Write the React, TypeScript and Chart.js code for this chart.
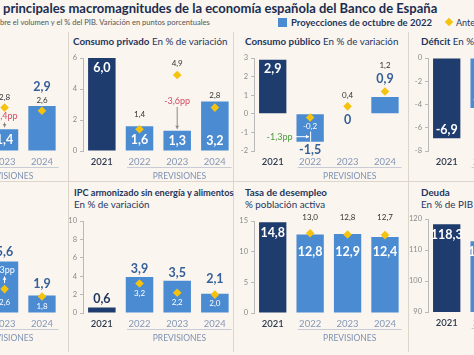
import React, { useEffect, useRef } from "react";
import { Chart, registerables } from "chart.js";
Chart.register(...registerables);

// ---------- DATA ----------
const YEARS = ["2021", "2022", "2023", "2024"];

const pibOct = [5.5, 4.5, 1.4, 2.9];
const pibPrev = [null, 4.1, 2.8, 2.6];
const pibTicks = [0, 2, 4, 6];

const consPrivOct = [6.0, 1.6, 1.3, 3.2];
const consPrivPrev = [null, 1.4, 4.9, 2.8];
const consPrivTicks = [0, 2, 4, 6];

const consPubOct = [2.9, -1.5, 0, 0.9];
const consPubPrev = [null, -0.2, 0.4, 1.2];
const consPubTicks = [-2, -1, 0, 1, 2, 3];

const deficitOct = [-6.9, -4.3, -4.4, -4.4];
const deficitPrev = [null, -5.0, -4.0, -3.6];
const deficitTicks = [-8, -6, -4, -2, 0];

const ipcOct = [3.0, 8.7, 5.6, 1.9];
const ipcPrev = [null, 7.5, 2.6, 1.8];
const ipcTicks = [0, 2, 4, 6, 8, 10];

const ipcSubOct = [0.6, 3.9, 3.5, 2.1];
const ipcSubPrev = [null, 3.2, 2.2, 2.0];
const ipcSubTicks = [0, 2, 4, 6, 8, 10];

const paroOct = [14.8, 12.8, 12.9, 12.4];
const paroPrev = [null, 13.0, 12.8, 12.7];
const paroTicks = [0, 5, 10, 15];

const deudaOct = [118.3, 112.8, 112.0, 111.6];
const deudaPrev = [null, 115.0, 114.4, 114.1];
const deudaTicks = [90, 100, 110, 120];

// ---------- STYLE ----------
const F = "Lato, 'Open Sans', sans-serif";
const BG = "#faf5ee";
const DARK = "#1e3c6e";
const LIGHT = "#4b8bd2";
const GOLD = "#f5c30f";
const W = "#ffffff";
const BLUE = "#345f98";
const NAVY = "#22385e";
const TXT = "#333333";
const RED = "#d24b63";
const GREEN = "#4a9a3e";
const SEP = "#ddd5ca";
const AX = "#b9b9b9";

type Anchor = "top" | "base";
interface ValLab { a: Anchor; dy: number; c: string }
interface DLab { dy: number; c: string }
interface Annot { i: number; mode: "down" | "up" | "left"; c: string; arrow: string }
interface PanelSpec {
  plot: [number, number, number, number];
  ticks: number[];
  oct: number[];
  prev: (number | null)[];
  vl: ValLab[];
  dl: DLab[];
  annot?: Annot;
}

const fmt = (v: number) => (Math.abs(v) < 1e-9 ? "0" : v.toFixed(1).replace(".", ","));
const fmtPP = (d: number) => {
  const r = Math.round(d * 10) / 10;
  const s = Number.isInteger(r) ? String(r) : r.toFixed(1).replace(".", ",");
  return (r > 0 ? "+" : "") + s + "pp";
};

const PANELS: PanelSpec[] = [
  {
    plot: [-89, 58, 63, 151], ticks: pibTicks, oct: pibOct, prev: pibPrev,
    vl: [{ a: "top", dy: 10, c: W }, { a: "base", dy: -11, c: W }, { a: "base", dy: -11, c: W }, { a: "top", dy: -19, c: BLUE }],
    dl: [{ dy: 0, c: TXT }, { dy: -12, c: TXT }, { dy: -10.5, c: TXT }, { dy: -10.5, c: TXT }],
    annot: { i: 2, mode: "down", c: RED, arrow: "#8a8a8a" },
  },
  {
    plot: [83, 58, 236, 151], ticks: consPrivTicks, oct: consPrivOct, prev: consPrivPrev,
    vl: [{ a: "top", dy: 10, c: W }, { a: "base", dy: -11, c: W }, { a: "base", dy: -10, c: W }, { a: "base", dy: -10, c: W }],
    dl: [{ dy: 0, c: TXT }, { dy: -15, c: TXT }, { dy: -11.5, c: TXT }, { dy: -12.5, c: TXT }],
    annot: { i: 2, mode: "down", c: RED, arrow: "#8a8a8a" },
  },
  {
    plot: [254, 58, 406, 151], ticks: consPubTicks, oct: consPubOct, prev: consPubPrev,
    vl: [{ a: "top", dy: 9, c: W }, { a: "top", dy: 8, c: BLUE }, { a: "top", dy: 6, c: BLUE }, { a: "top", dy: -18, c: BLUE }],
    dl: [{ dy: 0, c: TXT }, { dy: 9, c: W }, { dy: -10.5, c: TXT }, { dy: -26.5, c: TXT }],
    annot: { i: 1, mode: "left", c: GREEN, arrow: W },
  },
  {
    plot: [427.5, 58, 579.5, 151], ticks: deficitTicks, oct: deficitOct, prev: deficitPrev,
    vl: [{ a: "top", dy: -8, c: W }, { a: "top", dy: -8, c: W }, { a: "top", dy: -8, c: W }, { a: "top", dy: -8, c: W }],
    dl: [{ dy: 0, c: TXT }, { dy: -10, c: TXT }, { dy: -10, c: TXT }, { dy: -10, c: TXT }],
  },
  {
    plot: [-89, 221, 63, 313], ticks: ipcTicks, oct: ipcOct, prev: ipcPrev,
    vl: [{ a: "top", dy: -10, c: NAVY }, { a: "top", dy: -10, c: BLUE }, { a: "top", dy: -10, c: BLUE }, { a: "top", dy: -12, c: BLUE }],
    dl: [{ dy: 0, c: W }, { dy: 10, c: W }, { dy: 13, c: W }, { dy: 9.5, c: W }],
    annot: { i: 2, mode: "up", c: W, arrow: W },
  },
  {
    plot: [83, 221, 236, 313], ticks: ipcSubTicks, oct: ipcSubOct, prev: ipcSubPrev,
    vl: [{ a: "top", dy: -9, c: NAVY }, { a: "top", dy: -8, c: BLUE }, { a: "top", dy: -8, c: BLUE }, { a: "top", dy: -15, c: BLUE }],
    dl: [{ dy: 0, c: W }, { dy: 9.7, c: W }, { dy: 10, c: W }, { dy: 8.7, c: W }],
  },
  {
    plot: [254, 221, 406, 313], ticks: paroTicks, oct: paroOct, prev: paroPrev,
    vl: [{ a: "top", dy: 11, c: W }, { a: "top", dy: 17, c: W }, { a: "top", dy: 18, c: W }, { a: "top", dy: 15, c: W }],
    dl: [{ dy: 0, c: TXT }, { dy: -15.6, c: TXT }, { dy: -16.8, c: TXT }, { dy: -17.5, c: TXT }],
  },
  {
    plot: [427.5, 219.3, 579.5, 312.7], ticks: deudaTicks, oct: deudaOct, prev: deudaPrev,
    vl: [{ a: "top", dy: 10.6, c: W }, { a: "top", dy: 10.6, c: W }, { a: "top", dy: 10.6, c: W }, { a: "top", dy: 10.6, c: W }],
    dl: [{ dy: 0, c: TXT }, { dy: -10, c: TXT }, { dy: -10, c: TXT }, { dy: -10, c: TXT }],
  },
];

const YW = 24;
const PT = 10;
const PR = 2;
const PBT = 34;
const XH = 20;

function arrow(ctx: CanvasRenderingContext2D, x1: number, y1: number, x2: number, y2: number, color: string) {
  const ang = Math.atan2(y2 - y1, x2 - x1);
  ctx.save();
  ctx.strokeStyle = color;
  ctx.fillStyle = color;
  ctx.lineWidth = 1;
  ctx.beginPath();
  ctx.moveTo(x1, y1);
  ctx.lineTo(x2, y2);
  ctx.stroke();
  const h = 3.2;
  ctx.beginPath();
  ctx.moveTo(x2, y2);
  ctx.lineTo(x2 - h * Math.cos(ang) + h * 0.6 * Math.sin(ang), y2 - h * Math.sin(ang) - h * 0.6 * Math.cos(ang));
  ctx.lineTo(x2 - h * Math.cos(ang) - h * 0.6 * Math.sin(ang), y2 - h * Math.sin(ang) + h * 0.6 * Math.cos(ang));
  ctx.closePath();
  ctx.fill();
  ctx.restore();
}

function Panel({ spec }: { spec: PanelSpec }) {
  const ref = useRef<HTMLCanvasElement>(null);
  const [l, t, r, b] = spec.plot;
  const bl = l - YW;
  const bt = t - PT;
  const bw = Math.round(r + PR - bl);
  const bh = Math.round(b + PBT - bt);

  useEffect(() => {
    const labelPlugin = {
      id: "panelLabels",
      afterDatasetsDraw(chart: any) {
        const ctx: CanvasRenderingContext2D = chart.ctx;
        const bar = chart.getDatasetMeta(0);
        const pts = chart.getDatasetMeta(1);
        const xs = chart.scales.x;
        const area = chart.chartArea;
        ctx.save();
        ctx.textAlign = "center";
        ctx.textBaseline = "middle";
        spec.oct.forEach((v, i) => {
          const el = bar.data[i];
          const vl = spec.vl[i];
          const yy = (vl.a === "top" ? el.y : el.base) + vl.dy;
          ctx.font = `700 12.5px ${F}`;
          ctx.fillStyle = vl.c;
          ctx.fillText(fmt(v), el.x, yy);
          const p = spec.prev[i];
          if (p !== null && p !== undefined) {
            const pt = pts.data[i];
            const dl = spec.dl[i];
            ctx.font = `400 8px ${F}`;
            ctx.fillStyle = dl.c;
            ctx.fillText(fmt(p), pt.x, pt.y + dl.dy);
          }
        });
        const an = spec.annot;
        if (an) {
          const i = an.i;
          const el = bar.data[i];
          const pt = pts.data[i];
          const p = spec.prev[i] as number;
          const txt = fmtPP(spec.oct[i] - p);
          ctx.font = `400 9px ${F}`;
          ctx.fillStyle = an.c;
          const cx = el.x;
          if (an.mode === "down") {
            const ty = (pt.y + el.y) / 2 - 2;
            ctx.fillText(txt, cx, ty);
            arrow(ctx, cx, ty + 6, cx, el.y - 2, an.arrow);
          } else if (an.mode === "up") {
            const ty = el.y + 9;
            ctx.fillText(txt, cx, ty);
            arrow(ctx, cx, pt.y - 6, cx, ty + 6, an.arrow);
          } else {
            const ty = el.y - 5;
            const tx = el.x - el.width / 2 - 4;
            ctx.textAlign = "right";
            ctx.fillText(txt, tx, ty);
            arrow(ctx, tx + 2, ty, cx - 1, ty, an.arrow);
            ctx.strokeStyle = an.arrow;
            ctx.lineWidth = 1;
            ctx.beginPath();
            ctx.moveTo(cx + 0.5, pt.y + spec.dl[i].dy + 5);
            ctx.lineTo(cx + 0.5, el.y);
            ctx.stroke();
            ctx.textAlign = "center";
          }
        }
        // PREVISIONES bracket
        const x1 = xs.getPixelForTick(1) - 12.5;
        const x2 = area.right - 2;
        const ly = area.bottom + 16.5;
        ctx.strokeStyle = "#c8ccd6";
        ctx.lineWidth = 1;
        ctx.beginPath();
        ctx.moveTo(x1, ly);
        ctx.lineTo(x2, ly);
        ctx.stroke();
        ctx.font = `400 8.5px ${F}`;
        ctx.fillStyle = "#7d91b3";
        ctx.fillText("PREVISIONES", (x1 + x2) / 2, area.bottom + 25.5);
        ctx.restore();
      },
    };

    const ticks = spec.ticks;
    const chart = new Chart(ref.current as HTMLCanvasElement, {
      type: "bar",
      data: {
        labels: YEARS,
        datasets: [
          {
            type: "bar",
            data: spec.oct,
            backgroundColor: spec.oct.map((_, i) => (i === 0 ? DARK : LIGHT)),
            barPercentage: 0.73,
            categoryPercentage: 1,
            order: 1,
          } as any,
          {
            type: "line",
            data: spec.prev,
            showLine: false,
            pointStyle: "rectRot",
            pointRadius: 4.3,
            pointBackgroundColor: GOLD,
            pointBorderWidth: 0,
            order: 0,
          } as any,
        ],
      },
      options: {
        responsive: false,
        animation: false,
        devicePixelRatio: 1,
        layout: { padding: { left: 0, top: PT, right: PR, bottom: PBT - XH } },
        plugins: { legend: { display: false }, tooltip: { enabled: false } },
        scales: {
          x: {
            offset: true,
            grid: { display: false, drawTicks: false },
            border: { display: false },
            ticks: {
              padding: 5,
              color: (c: any) => (c.index === 0 ? "#2d3a4f" : "#8397b7"),
              font: (c: any) => ({ size: 9.5, family: F, weight: c.index === 0 ? "600" : "400" }),
            },
            afterFit: (s: any) => { s.height = XH; },
          },
          y: {
            min: ticks[0],
            max: ticks[ticks.length - 1],
            afterBuildTicks: (s: any) => { s.ticks = ticks.map((v) => ({ value: v })); },
            afterFit: (s: any) => { s.width = YW; },
            grid: { drawOnChartArea: false, drawTicks: true, tickLength: 3, color: AX },
            border: { display: true, color: AX },
            ticks: { padding: 3, color: "#8a8a8a", font: { size: 7.5, family: F } },
          },
        },
      } as any,
      plugins: [labelPlugin],
    });
    return () => chart.destroy();
  }, []);

  return (
    <canvas
      ref={ref}
      width={bw}
      height={bh}
      style={{ position: "absolute", left: bl, top: bt, width: bw, height: bh }}
    />
  );
}

const abs = (o: React.CSSProperties): React.CSSProperties => ({ position: "absolute", whiteSpace: "nowrap", lineHeight: 1, ...o });

function Title({ x, y, bold, rest, size }: { x: number; y: number; bold: string; rest?: string; size?: number }) {
  return (
    <div style={abs({ left: x, top: y, fontSize: size ?? 9.8, color: "#1f3560" })}>
      <span style={{ fontWeight: 700 }}>{bold}</span>
      {rest ? <span style={{ fontWeight: 400 }}>{(bold ? " " : "") + rest}</span> : null}
    </div>
  );
}

export default function App() {
  return (
    <div style={{ position: "fixed", left: 0, top: 0, width: 474, height: 355, overflow: "hidden", background: BG, fontFamily: F }}>
      {/* separators */}
      <div style={abs({ left: 68, top: 32, width: 1, height: 320, background: SEP })} />
      <div style={abs({ left: 232.5, top: 32, width: 1, height: 320, background: SEP })} />
      <div style={abs({ left: 407.5, top: 32, width: 1, height: 320, background: SEP })} />
      <div style={abs({ left: 0, top: 181, width: 474, height: 1, background: SEP })} />

      {/* header */}
      <div style={abs({ left: 3, top: 2, fontSize: 13, fontWeight: 700, color: "#1b2d50" })}>
        principales macromagnitudes de la economía española del Banco de España
      </div>
      <div style={abs({ left: 0, top: 18.5, fontSize: 7.6, color: "#555" })}>
        bre el volumen y el % del PIB. Variación en puntos porcentuales
      </div>
      <div style={abs({ left: 278, top: 17.5, width: 9, height: 9, background: LIGHT })} />
      <div style={abs({ left: 291, top: 17.5, fontSize: 9.5, fontWeight: 700, color: "#1f3560" })}>
        Proyecciones de octubre de 2022
      </div>
      <div style={abs({ left: 446, top: 18.5, width: 6, height: 6, background: GOLD, transform: "rotate(45deg)" })} />
      <div style={abs({ left: 456, top: 18, fontSize: 9, color: "#1f3560" })}>Anteriores</div>

      {/* panel titles */}
      <Title x={73} y={37} bold="Consumo privado" rest="En % de variación" />
      <Title x={245} y={37} bold="Consumo público" rest="En % de variación" />
      <Title x={421} y={37} bold="Déficit" rest="En % de PIB" />
      <Title x={74} y={188} bold="IPC armonizado sin energía y alimentos" size={9.2} />
      <Title x={74} y={199.5} bold="" rest="En % de variación" />
      <Title x={245} y={188} bold="Tasa de desempleo" />
      <Title x={245} y={199.5} bold="" rest="% población activa" />
      <Title x={421} y={188} bold="Deuda" />
      <Title x={421} y={199.5} bold="" rest="En % de PIB" />

      {PANELS.map((p, i) => (
        <Panel key={i} spec={p} />
      ))}
    </div>
  );
}
